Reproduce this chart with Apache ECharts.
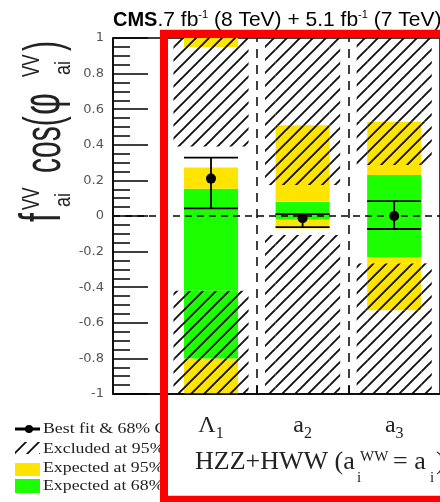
<!DOCTYPE html>
<html>
<head>
<meta charset="utf-8">
<title>f_ai cos(phi_ai)</title>
<script src="https://cdn.jsdelivr.net/npm/echarts@6/dist/echarts.min.js"></script>
<style>
  html, body { margin: 0; padding: 0; background: #fff; }
  #chart { width: 440px; height: 502px; }
</style>
</head>
<body>
<div id="chart"></div>
<script>
// categories (base symbol + subscript)
const catBase = ['Λ', 'a', 'a'];
const catSub = ['1', '2', '3'];
// best fit and 68% CL interval
const bestFit = [0.21, -0.013, 0.0];
const fitLow = [0.043, -0.063, -0.073];
const fitHigh = [0.328, 0.01, 0.084];
// expected 68% band [cat, low, high]
const expected68 = [[0, -0.80, 0.153], [1, -0.02, 0.08], [2, -0.23, 0.23]];
// expected 95% band
const expected95 = [[0, -1, 0.273], [0, 0.95, 1], [1, -0.07, 0.51], [2, -0.53, 0.53]];
// excluded at 95% CL
const excluded95 = [[0, 0.39, 1], [0, -1, -0.42], [1, 0.174, 1], [1, -1, -0.107], [2, 0.287, 1], [2, -1, -0.266]];
const binEdges = [0.5, 1.5];
const legendLabels = ['Best fit & 68% C.L.', 'Excluded at 95% C.L.', 'Expected at 95% C.L.', 'Expected at 68% C.L.'];

const YELLOW = '#ffe400';
const GREEN = '#1cff00';
const bandHalf = 0.295;
const hatchHalf = 0.41;

// "/" hatch tile, optionally on a coloured background
function makeHatch(bg) {
  const c = document.createElement('canvas');
  c.width = 13; c.height = 13;
  const ctx = c.getContext('2d');
  if (bg) { ctx.fillStyle = bg; ctx.fillRect(0, 0, 13, 13); }
  ctx.strokeStyle = '#111';
  ctx.lineWidth = 1.9;
  ctx.beginPath();
  ctx.moveTo(-2, 15); ctx.lineTo(15, -2);
  ctx.moveTo(-2, 2); ctx.lineTo(2, -2);
  ctx.moveTo(11, 15); ctx.lineTo(15, 11);
  ctx.stroke();
  return { image: c, repeat: 'repeat' };
}
const fills = {
  yellow: YELLOW,
  green: GREEN,
  yellowH: makeHatch(YELLOW),
  greenH: makeHatch(GREEN),
  noneH: makeHatch(null)
};

function inAny(list, v) { return list.some(d => d[1] <= v && v <= d[2]); }

// bands and exclusion hatch for one category, split so nothing overlaps
function renderCategory(params, api) {
  const i = api.value(0);
  const Y = expected95.filter(d => d[0] === i);
  const G = expected68.filter(d => d[0] === i);
  const H = excluded95.filter(d => d[0] === i);
  const cuts = [-1, 1];
  [Y, G, H].forEach(list => list.forEach(d => { cuts.push(d[1], d[2]); }));
  const ys = Array.from(new Set(cuts)).sort((a, b) => a - b);
  const children = [];
  function rect(xa, xb, lo, hi, fill) {
    const p1 = api.coord([xa, hi]);
    const p2 = api.coord([xb, lo]);
    children.push({
      type: 'rect',
      shape: { x: p1[0], y: p1[1], width: p2[0] - p1[0], height: p2[1] - p1[1] },
      style: { fill: fill }
    });
  }
  for (let k = 0; k + 1 < ys.length; k++) {
    const lo = ys[k], hi = ys[k + 1], m = (lo + hi) / 2;
    const colour = inAny(G, m) ? 'green' : (inAny(Y, m) ? 'yellow' : 'none');
    const hatched = inAny(H, m);
    if (colour !== 'none' || hatched) {
      rect(i - bandHalf, i + bandHalf, lo, hi, fills[colour + (hatched ? 'H' : '')]);
    }
    if (hatched) {
      rect(i - hatchHalf, i - bandHalf, lo, hi, fills.noneH);
      rect(i + bandHalf, i + hatchHalf, lo, hi, fills.noneH);
    }
  }
  return { type: 'group', children: children };
}

function renderFit(params, api) {
  const i = api.value(0);
  const pt = api.coord([i, api.value(1)]);
  const lo = api.coord([i, api.value(2)]);
  const hi = api.coord([i, api.value(3)]);
  const l = api.coord([i - bandHalf, 0])[0];
  const r = api.coord([i + bandHalf, 0])[0];
  const ls = { stroke: '#000', lineWidth: 1.8 };
  return {
    type: 'group', children: [
      { type: 'line', shape: { x1: pt[0], y1: lo[1], x2: pt[0], y2: hi[1] }, style: ls },
      { type: 'line', shape: { x1: l, y1: lo[1], x2: r, y2: lo[1] }, style: ls },
      { type: 'line', shape: { x1: l, y1: hi[1], x2: r, y2: hi[1] }, style: ls },
      { type: 'circle', shape: { cx: pt[0], cy: pt[1], r: 5 }, style: { fill: '#000' } }
    ]
  };
}

const chart = echarts.init(document.getElementById('chart'));

// y title pieces (rotated)
const yTitleFont = 'Liberation Sans, Arial, sans-serif';
function rotText(text, x, y, fs, sy) {
  return {
    type: 'text', x: x, y: y, rotation: Math.PI / 2, scaleY: sy, z: 20,
    style: { text: text, fill: '#222', font: fs + 'px ' + yTitleFont, align: 'left', verticalAlign: 'middle' }
  };
}

const serif = 'Liberation Serif, Times New Roman, serif';
function legendText(t, y) {
  return {
    type: 'text', x: 43, y: y, scaleX: 1.27, z: 0,
    style: { text: t, fill: '#222', font: '14px ' + serif, align: 'left', verticalAlign: 'middle' }
  };
}

const option = {
  animation: false,
  grid: { left: 113, right: -12, top: 38, bottom: 108, show: true, borderColor: '#000', borderWidth: 1.5 },
  xAxis: {
    type: 'value', min: -1.07, max: 2.5, z: 5,
    axisLine: { onZero: false, lineStyle: { color: '#000', width: 1.5 } },
    axisTick: { customValues: binEdges, inside: true, length: 8, lineStyle: { color: '#000', width: 1.5 } },
    axisLabel: {
      customValues: [0, 1, 2], margin: 20, color: '#222',
      formatter: function (v) { const i = Math.round(v); return '{m|' + catBase[i] + '}{s|' + catSub[i] + '}'; },
      rich: {
        m: { fontFamily: serif, fontSize: 24, lineHeight: 28, verticalAlign: 'top', color: '#222' },
        s: { fontFamily: serif, fontSize: 16, lineHeight: 16, padding: [16, 0, 0, 0], verticalAlign: 'bottom', color: '#222' }
      }
    },
    splitLine: { show: false }
  },
  yAxis: {
    type: 'value', min: -1, max: 1, interval: 0.2,
    axisLine: { onZero: false, lineStyle: { color: '#000', width: 1.5 } },
    axisTick: { inside: true, length: 35, lineStyle: { color: '#000', width: 1.5 } },
    minorTick: { show: true, splitNumber: 4, length: 17, lineStyle: { color: '#000', width: 1.5 } },
    axisLabel: { color: '#555', fontFamily: 'DejaVu Sans', fontSize: 13, margin: 9 },
    splitLine: { show: false }
  },
  series: [
    {
      type: 'custom', data: catBase.map((c, i) => [i, -1, 1]), encode: { x: 0, y: [1, 2] },
      silent: true, z: 2, renderItem: renderCategory
    },
    {
      type: 'line', data: [], z: 5,
      markLine: {
        silent: true, symbol: ['none', 'none'], label: { show: false },
        data: [
          { yAxis: 0, lineStyle: { color: '#000', width: 1.5, type: [7, 5] } },
          { xAxis: binEdges[0], lineStyle: { color: '#000', width: 1.5, type: [9, 7] } },
          { xAxis: binEdges[1], lineStyle: { color: '#000', width: 1.5, type: [9, 7] } }
        ]
      }
    },
    {
      type: 'custom', data: bestFit.map((v, i) => [i, v, fitLow[i], fitHigh[i]]), encode: { x: 0, y: [2, 3] },
      silent: true, z: 6, renderItem: renderFit
    }
  ],
  graphic: [
    // header
    {
      type: 'text', x: 113, y: 20, z: 20,
      style: {
        text: '{b|CMS}{n|.7 fb}{s|-1}{n| (8 TeV) + 5.1 fb}{s|-1}{n| (7 TeV)}',
        align: 'left', verticalAlign: 'middle',
        rich: {
          b: { fontFamily: 'Liberation Sans', fontWeight: 'bold', fontSize: 20, lineHeight: 21, color: '#000' },
          n: { fontFamily: 'Liberation Sans', fontSize: 21, lineHeight: 21, color: '#222' },
          s: { fontFamily: 'Liberation Sans', fontSize: 11, lineHeight: 11, verticalAlign: 'top', color: '#222' }
        }
      }
    },
    // y axis title
    rotText('f', 44, 222, 32, 1.8),
    rotText('ai', 64, 207, 18, 1.2),
    rotText('VV', 32, 210, 17, 1.4),
    rotText('cos(', 46, 173, 30, 1.75),
    rotText('φ', 44, 115, 34, 1.6),
    rotText('ai', 64, 75, 18, 1.2),
    rotText('VV', 32, 77, 17, 1.4),
    rotText(')', 46, 51, 30, 1.75),
    // legend
    { type: 'line', z: 0, shape: { x1: 15, y1: 429, x2: 40, y2: 429 }, style: { stroke: '#000', lineWidth: 3 } },
    { type: 'circle', z: 0, shape: { cx: 29, cy: 429, r: 4 }, style: { fill: '#000' } },
    { type: 'rect', z: 0, shape: { x: 15, y: 442, width: 25, height: 12 }, style: { fill: fills.noneH } },
    { type: 'rect', z: 0, shape: { x: 15, y: 463, width: 25, height: 13 }, style: { fill: YELLOW } },
    { type: 'rect', z: 0, shape: { x: 15, y: 479, width: 25, height: 14 }, style: { fill: GREEN } },
    legendText(legendLabels[0], 429),
    legendText(legendLabels[1], 449),
    legendText(legendLabels[2], 468),
    legendText(legendLabels[3], 486),
    // white panel behind category labels
    { type: 'rect', z: 1, shape: { x: 164, y: 396, width: 290, height: 110 }, style: { fill: '#fff' } },
    // x axis title line
    { type: 'text', x: 195, y: 462, z: 20, style: { text: 'HZZ+HWW (a', fill: '#222', font: '26px ' + serif, align: 'left', verticalAlign: 'middle' } },
    { type: 'text', x: 357, y: 478, z: 20, style: { text: 'i', fill: '#222', font: '15px ' + serif, align: 'left', verticalAlign: 'middle' } },
    { type: 'text', x: 360, y: 457, z: 20, style: { text: 'WW', fill: '#222', font: '15px ' + serif, align: 'left', verticalAlign: 'middle' } },
    { type: 'text', x: 393, y: 462, z: 20, style: { text: '= a', fill: '#222', font: '26px ' + serif, align: 'left', verticalAlign: 'middle' } },
    { type: 'text', x: 430, y: 478, z: 20, style: { text: 'i', fill: '#222', font: '15px ' + serif, align: 'left', verticalAlign: 'middle' } },
    { type: 'text', x: 436, y: 462, z: 20, style: { text: ')', fill: '#222', font: '26px ' + serif, align: 'left', verticalAlign: 'middle' } },
    // red highlight frame
    { type: 'rect', z: 100, shape: { x: 164, y: 33.7, width: 400, height: 466 }, style: { fill: 'none', stroke: '#ff0000', lineWidth: 8 } }
  ]
};
chart.setOption(option);
</script>
</body>
</html>
